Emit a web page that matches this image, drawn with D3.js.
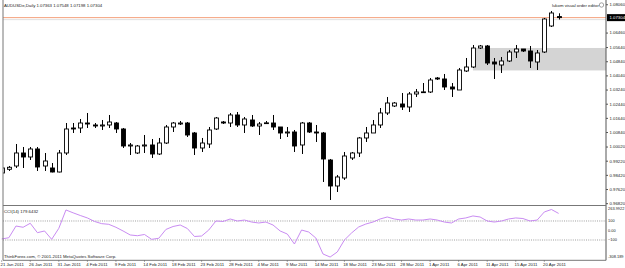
<!DOCTYPE html>
<html>
<head>
<meta charset="utf-8">
<script src="https://cdn.jsdelivr.net/npm/d3@7"></script>
<style>
  body { margin: 0; background: #fff; }
  svg { display: block; }
  text { font-family: "Liberation Sans", Arial, sans-serif; font-size: 4.3px; fill: #222; }
</style>
</head>
<body>
<svg id="chart" width="625" height="268"></svg>
<script>
// AUDUSDe daily, 21 Jan 2011 .. 22 Apr 2011 (sunday bars included)
const open = [
  0.98526, 0.98735, 0.98921, 0.99656, 0.99430, 0.99882, 0.98921, 0.98808, 0.98582, 0.99656,
  1.01068, 1.01068, 1.01350, 1.01238, 1.01181, 1.01238, 1.01350, 1.01012, 1.00051, 0.99656,
  1.00051, 1.00108, 0.99599, 1.00220, 1.01125, 1.01294, 1.01350, 1.00786, 0.99938, 1.00164,
  1.01012, 1.01407, 1.01350, 1.01803, 1.01238, 1.01520, 1.01181, 1.01350, 1.01350, 1.01125,
  1.00786, 1.00842, 1.00108, 1.01350, 1.00842, 1.00786, 0.99260, 0.97791, 0.98243, 0.99373,
  0.99656, 1.00504, 1.00786, 1.01238, 1.01916, 1.02311, 1.02424, 1.02255, 1.02989, 1.03102,
  1.03102, 1.03893, 1.03837, 1.03385, 1.03215, 1.04289, 1.04515, 1.05588, 1.05701, 1.04797,
  1.04628, 1.04854, 1.05362, 1.05532, 1.05419, 1.04797, 1.05362, 1.06831, 1.07363
]
const high = [
  0.99090, 0.98921, 1.00164, 0.99995, 0.99995, 0.99995, 0.99656, 0.99090, 0.99825, 1.01350,
  1.01350, 1.01577, 1.01916, 1.01350, 1.01520, 1.01803, 1.01407, 1.01068, 1.00220, 1.00108,
  1.00673, 1.00447, 1.00504, 1.01238, 1.01407, 1.01464, 1.01407, 1.00842, 1.00504, 1.01125,
  1.01690, 1.01464, 1.01916, 1.01972, 1.01690, 1.01803, 1.01407, 1.01464, 1.01803, 1.01125,
  1.01125, 1.00955, 1.01407, 1.01407, 1.01238, 1.00842, 0.99317, 0.98413, 0.99712, 0.99712,
  1.00560, 1.01125, 1.01520, 1.02198, 1.02820, 1.02537, 1.03046, 1.03102, 1.03272, 1.03610,
  1.03893, 1.03950, 1.04119, 1.03610, 1.04458, 1.05023, 1.05758, 1.05758, 1.05758, 1.05023,
  1.05080, 1.05475, 1.05758, 1.05532, 1.05701, 1.05475, 1.07283, 1.07679, 1.07548
]
const low = [
  0.98356, 0.98639, 0.98808, 0.98808, 0.99260, 0.98639, 0.98639, 0.98560, 0.98560, 0.99543,
  1.00786, 1.00786, 1.01068, 1.01068, 1.00955, 1.01068, 1.00786, 0.99938, 0.99543, 0.99600,
  0.99656, 0.99373, 0.99543, 1.00164, 1.00842, 1.01238, 1.00560, 0.99543, 0.99712, 0.99938,
  1.00955, 1.01294, 1.01125, 1.01125, 1.00786, 1.01125, 1.00673, 1.01294, 1.00955, 1.00447,
  1.00560, 0.99712, 0.99599, 1.00786, 1.00277, 0.98017, 0.97000, 0.97452, 0.98130, 0.99260,
  0.99430, 1.00277, 1.00786, 1.01068, 1.01803, 1.02255, 1.02085, 1.01972, 1.02820, 1.03046,
  1.03046, 1.03780, 1.03215, 1.02820, 1.03215, 1.04232, 1.04458, 1.05532, 1.04628, 1.03837,
  1.04176, 1.04797, 1.05023, 1.05362, 1.04458, 1.04345, 1.05306, 1.06775, 1.07198
]
const close = [
  0.98808, 0.98848, 0.99656, 0.99430, 0.99882, 0.98865, 0.99204, 0.98582, 0.99656, 1.01012,
  1.01012, 1.01350, 1.01294, 1.01181, 1.01238, 1.01407, 1.01012, 1.00051, 1.00108, 1.00051,
  1.00108, 0.99599, 1.00220, 1.01125, 1.01350, 1.01350, 1.00673, 0.99938, 1.00220, 1.00955,
  1.01633, 1.01350, 1.01803, 1.01238, 1.01577, 1.01181, 1.01294, 1.01360, 1.01125, 1.00786,
  1.00842, 1.00051, 1.01350, 1.00842, 1.00786, 0.99317, 0.97791, 0.98300, 0.99486, 0.99656,
  1.00504, 1.00786, 1.01238, 1.01916, 1.02480, 1.02480, 1.02255, 1.02989, 1.03102, 1.03110,
  1.03780, 1.03837, 1.03385, 1.03272, 1.04345, 1.04515, 1.05588, 1.05701, 1.04740, 1.04684,
  1.04854, 1.05362, 1.05532, 1.05419, 1.04854, 1.05306, 1.07227, 1.07566, 1.07304
]
const cci = [
  -89, -76, 47, 34, 76, -23, -5, -93, 23, 216,
  186, 158, 132, 95, 72, 65, 34, -5, -47, -55,
  -42, -93, -82, 11, 42, 58, 21, -63, -58, 5,
  100, 95, 121, 100, 110, 89, 79, 89, 58, -5,
  -37, -142, 5, -16, -79, -247, -279, -226, -100, -26,
  37, 68, 89, 121, 142, 121, 110, 121, 110, 110,
  121, 110, 89, 79, 121, 132, 153, 142, 100, 89,
  100, 121, 132, 126, 100, 110, 195, 221, 179.6432
]

// date labels every 4 bars
const dateTicks = ['21 Jan 2011','26 Jan 2011','31 Jan 2011','4 Feb 2011','9 Feb 2011','14 Feb 2011',
  '18 Feb 2011','23 Feb 2011','28 Feb 2011','4 Mar 2011','9 Mar 2011','14 Mar 2011','18 Mar 2011',
  '23 Mar 2011','28 Mar 2011','1 Apr 2011','6 Apr 2011','11 Apr 2011','15 Apr 2011','20 Apr 2011']
const priceTicks = [1.08060, 1.06460, 1.05640, 1.04840, 1.04040, 1.03240, 1.02440, 1.01640,
  1.00840, 1.00020, 0.99220, 0.98420, 0.97620, 0.96820]
const cciTicks = [263.9922, 100, 0, -100, -308.189]
const cciLevels = [100, -100]

// rectangle object + bid
const zoneBar = 66
const zoneTop = 1.0559, zoneBottom = 1.0432
const bid = 1.07304

///////////////////////////////////////////////////

const svg = d3.select('#chart')
const W = 625
const left = 3, axisX = 606
const mainTop = 0, mainBottom = 205.5
const cciTop = 205.4, cciBottom = 259.8

const n = close.length
const bars = d3.range(n).map(i => ({i: i, o: open[i], h: high[i], l: low[i], c: close[i]}))

const x = d3.scaleLinear().domain([0, 78]).range([1.7, 558.6])
const y = d3.scaleLinear().domain([0.96717, 1.0830]).range([205, 0])
const yc = d3.scaleLinear().domain([-308.189, 263.9922]).range([cciBottom, cciTop])

svg.append('rect').attr('width', W).attr('height', 268).attr('fill', '#fff')

const clip = svg.append('clipPath').attr('id', 'plot')
clip.append('rect').attr('x', left).attr('y', mainTop).attr('width', axisX - left).attr('height', mainBottom - mainTop)

const main = svg.append('g').attr('clip-path', 'url(#plot)')

// grey zone
main.append('rect')
  .attr('x', x(zoneBar))
  .attr('y', y(zoneTop))
  .attr('width', axisX - x(zoneBar))
  .attr('height', y(zoneBottom) - y(zoneTop))
  .attr('fill', '#d4d4d4')

// bid / ask lines
main.append('line')
  .attr('x1', left).attr('x2', axisX)
  .attr('y1', y(bid)).attr('y2', y(bid))
  .attr('stroke', '#f4a07c').attr('stroke-width', 1)
main.append('line')
  .attr('x1', left).attr('x2', axisX)
  .attr('y1', y(bid) + 2).attr('y2', y(bid) + 2)
  .attr('stroke', '#d8d8d8').attr('stroke-width', 0.8)

// candles
const cg = main.selectAll('.candle').data(bars).enter().append('g').attr('class', 'candle')
cg.append('line')
  .attr('x1', d => Math.round(x(d.i)) + 0.5).attr('x2', d => Math.round(x(d.i)) + 0.5)
  .attr('y1', d => y(d.h)).attr('y2', d => y(d.l))
  .attr('stroke', '#000').attr('stroke-width', 1)
cg.append('rect')
  .attr('x', d => Math.round(x(d.i)) - 1.5)
  .attr('width', 4)
  .attr('y', d => y(Math.max(d.o, d.c)))
  .attr('height', d => Math.max(0.8, Math.abs(y(d.o) - y(d.c))))
  .attr('fill', d => d.c >= d.o ? '#fff' : '#000')
  .attr('stroke', '#000').attr('stroke-width', 0.9)

// cci pane
const cg2 = svg.append('g')
cg2.selectAll('.lvl').data(cciLevels).enter().append('line')
  .attr('class', 'lvl')
  .attr('x1', left).attr('x2', axisX)
  .attr('y1', d => yc(d)).attr('y2', d => yc(d))
  .attr('stroke', '#777').attr('stroke-width', 0.7).attr('stroke-dasharray', '1,1.2')

const cciLine = d3.line().x((d, i) => x(i)).y(d => yc(d))
cg2.append('path')
  .attr('d', cciLine(cci))
  .attr('fill', 'none').attr('stroke', '#c98cf2').attr('stroke-width', 1)

// frame
svg.append('line').attr('x1', left).attr('x2', left).attr('y1', 0).attr('y2', cciBottom + 0.5)
  .attr('stroke', '#777').attr('stroke-width', 1)
svg.append('line').attr('x1', axisX).attr('x2', axisX).attr('y1', 0).attr('y2', cciBottom + 0.5)
  .attr('stroke', '#555').attr('stroke-width', 1)
svg.append('line').attr('x1', left).attr('x2', axisX).attr('y1', mainBottom).attr('y2', mainBottom)
  .attr('stroke', '#777').attr('stroke-width', 1.2)
svg.append('line').attr('x1', left).attr('x2', axisX).attr('y1', cciBottom + 0.5).attr('y2', cciBottom + 0.5)
  .attr('stroke', '#777').attr('stroke-width', 1)

// price axis
const pa = svg.append('g').attr('transform', `translate(${axisX},0)`)
  .call(d3.axisRight(y).tickValues(priceTicks).tickSize(2).tickPadding(1.5).tickFormat(d3.format('.5f')))
pa.select('.domain').remove()
pa.selectAll('line').attr('stroke', '#555')
pa.selectAll('text').style('font-size', '4.3px').attr('fill', '#222')

// bid label
svg.append('rect').attr('x', axisX + 1).attr('y', y(bid) - 3.5).attr('width', 625 - axisX).attr('height', 7).attr('fill', '#000')
svg.append('text').attr('x', axisX + 3.5).attr('y', y(bid)).attr('dy', '0.35em')
  .attr('fill', '#fff').style('fill', '#fff').text(d3.format('.5f')(bid))

// cci axis
const ca = svg.append('g').attr('transform', `translate(${axisX},0)`)
ca.selectAll('text').data(cciTicks).enter().append('text')
  .attr('x', 2)
  .attr('y', d => Math.min(cciBottom - 3, Math.max(cciTop + 2.8, yc(d))))
  .attr('dy', '0.35em')
  .style('font-size', '3.95px')
  .text(d => d === 0 ? '0.00' : (d === 100 || d === -100) ? d3.format('d')(d) : d)

// time axis
const ta = svg.append('g')
ta.selectAll('text').data(dateTicks).enter().append('text')
  .attr('x', (d, i) => x(i * 4) - 1.2)
  .attr('y', 265.5)
  .text(d => d)
ta.selectAll('line').data(dateTicks).enter().append('line')
  .attr('x1', (d, i) => x(i * 4)).attr('x2', (d, i) => x(i * 4))
  .attr('y1', cciBottom + 0.5).attr('y2', cciBottom + 2)
  .attr('stroke', '#555').attr('stroke-width', 0.6)

// captions
svg.append('text').attr('x', 4).attr('y', 6.5)
  .text('AUDUSDe,Daily  1.07363 1.07548 1.07198 1.07304')
svg.append('text').attr('x', 552).attr('y', 6.5).text('lukom visual order editor')
svg.append('circle').attr('cx', 601.5).attr('cy', 5).attr('r', 2.2)
  .attr('fill', 'none').attr('stroke', '#666').attr('stroke-width', 0.6)
svg.append('text').attr('x', 4).attr('y', 212.5).text('CCI(14) 179.6432')
svg.append('text').attr('x', 4).attr('y', 257.5).text('ThinkForex.com, \u00a9 2001-2011 MetaQuotes Software Corp.')
</script>
</body>
</html>
